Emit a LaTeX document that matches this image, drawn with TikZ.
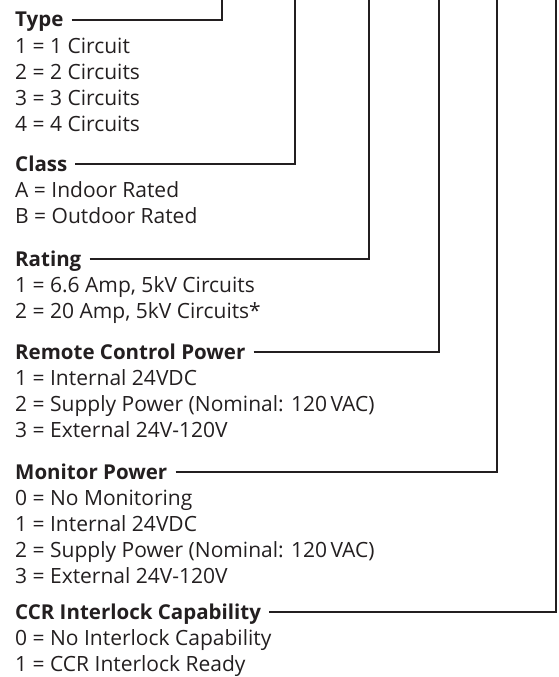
\documentclass[tikz,border=0pt]{standalone}
\usepackage{fontspec}
\setmainfont{Open Sans}
\usetikzlibrary{positioning,calc}
\definecolor{LeadGray}{RGB}{35,31,32}
\tikzset{
  head/.style={anchor=base west,inner sep=0pt,font=\fontsize{20.5}{25}\selectfont\bfseries,
    text=LeadGray},
  item/.style={anchor=base west,inner sep=0pt,font=\fontsize{21}{25}\selectfont,
    text=LeadGray},
  lead/.style={draw=LeadGray,line width=2pt}
}

\begin{document}
\begin{tikzpicture}[x=1pt,y=-1pt]
\useasboundingbox (0,0) rectangle (558,677);

% tops of the leads
\coordinate (typetop) at (222,0);
\coordinate (classtop) at (295,0);
\coordinate (ratingtop) at (369,0);
\coordinate (remotetop) at (439,0);
\coordinate (monitortop) at (497,0);
\coordinate (ccrtop) at (555.5,0);

% Type
\node[head] (type) at (15,27) {Type};
\node[item] (type1) at ([yshift=-26.2pt]type.base west) {1 = 1 Circuit};
\node[item] (type2) at ([yshift=-26.2pt]type1.base west) {2 = 2 Circuits};
\node[item] (type3) at ([yshift=-26.2pt]type2.base west) {3 = 3 Circuits};
\node[item] (type4) at ([yshift=-26.2pt]type3.base west) {4 = 4 Circuits};

% Class
\node[head] (class) at (15,171) {Class};
\node[item] (classa) at ([yshift=-26.2pt]class.base west) {A = Indoor Rated};
\node[item] (classb) at ([yshift=-26.2pt]classa.base west) {B = Outdoor Rated};

% Rating
\node[head] (rating) at (15,266) {Rating};
\node[item] (rating1) at ([yshift=-26.2pt]rating.base west) {1 = 6.6 Amp, 5kV Circuits};
\node[item] (rating2) at ([yshift=-26.2pt]rating1.base west) {2 = 20 Amp, 5kV Circuits*};

% Remote Control Power
\node[head] (remote) at (15,359) {Remote Control Power};
\node[item] (remote1) at ([yshift=-26.2pt]remote.base west) {1 = Internal 24VDC};
\node[item] (remote2) at ([yshift=-26.2pt]remote1.base west) {2 = Supply Power (Nominal: 120\,VAC)};
\node[item] (remote3) at ([yshift=-26.2pt]remote2.base west) {3 = External 24V-120V};

% Monitor Power
\node[head] (monitor) at (15,479) {Monitor Power};
\node[item] (monitor0) at ([yshift=-26.2pt]monitor.base west) {0 = No Monitoring};
\node[item] (monitor1) at ([yshift=-26.2pt]monitor0.base west) {1 = Internal 24VDC};
\node[item] (monitor2) at ([yshift=-26.2pt]monitor1.base west) {2 = Supply Power (Nominal: 120\,VAC)};
\node[item] (monitor3) at ([yshift=-26.2pt]monitor2.base west) {3 = External 24V-120V};

% CCR Interlock Capability
\node[head] (ccr) at (15,619) {CCR Interlock Capability};
\node[item] (ccr0) at ([yshift=-26.2pt]ccr.base west) {0 = No Interlock Capability};
\node[item] (ccr1) at ([yshift=-26.2pt]ccr0.base west) {1 = CCR Interlock Ready};

% leads
\draw[lead] ([xshift=8pt,yshift=7pt]type.base east) -| (typetop);
\draw[lead] ([xshift=8pt,yshift=7pt]class.base east) -| (classtop);
\draw[lead] ([xshift=8pt,yshift=7pt]rating.base east) -| (ratingtop);
\draw[lead] ([xshift=8pt,yshift=7pt]remote.base east) -| (remotetop);
\draw[lead] ([xshift=8pt,yshift=7pt]monitor.base east) -| (monitortop);
\draw[lead] ([xshift=8pt,yshift=7pt]ccr.base east) -| (ccrtop);

\end{tikzpicture}
\end{document}
